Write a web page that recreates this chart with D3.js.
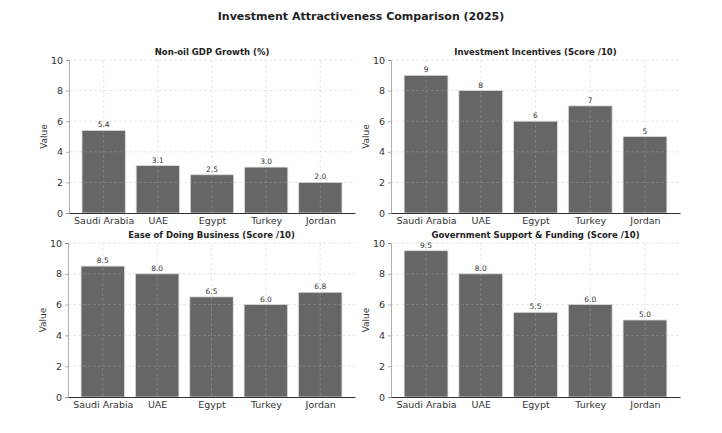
<!DOCTYPE html>
<head>
  <meta charset="UTF-8">
  <title>investment</title>
  <style>
  body, html, svg{
    padding: 0;
    margin: 0;
  }
  body{
    background: #fff;
  }
  text{
    font-family: "DejaVu Sans", sans-serif;
  }
  </style>
</head>
<body>
  <script src="https://cdn.jsdelivr.net/npm/d3@7"></script>
  <script type="text/javascript">
  var width = 722;
  var height = 433;

  // data
  var countries = ['Saudi Arabia', 'UAE', 'Egypt', 'Turkey', 'Jordan'];
  var gdpGrowth = [5.4, 3.1, 2.5, 3.0, 2.0];
  var incentives = [9, 8, 6, 7, 5];
  var easeBusiness = [8.5, 8.0, 6.5, 6.0, 6.8];
  var govSupport = [9.5, 8.0, 5.5, 6.0, 5.0];
  var yTicks = [0, 2, 4, 6, 8, 10];

  var panels = [
    {title: 'Non-oil GDP Growth (%)', values: gdpGrowth, fmt: '.1f', box: [69, 60, 355, 213]},
    {title: 'Investment Incentives (Score /10)', values: incentives, fmt: 'd', box: [391, 60, 680, 213]},
    {title: 'Ease of Doing Business (Score /10)', values: easeBusiness, fmt: '.1f', box: [68, 243, 355, 397]},
    {title: 'Government Support & Funding (Score /10)', values: govSupport, fmt: '.1f', box: [391, 243, 680, 397]}
  ];

  var svg = d3.select('body')
    .append('svg')
    .attr('width', width)
    .attr('height', height);

  svg.append('text')
    .attr('x', 361)
    .attr('y', 20)
    .attr('text-anchor', 'middle')
    .attr('font-size', 11)
    .attr('font-weight', 'bold')
    .attr('fill', '#222')
    .text('Investment Attractiveness Comparison (2025)');

  panels.forEach(function(p){
    var x0 = p.box[0], y0 = p.box[1], x1 = p.box[2], y1 = p.box[3];
    var g = svg.append('g');

    // matplotlib-like: bars width 0.8, 5% margins
    var x = d3.scaleLinear().domain([-0.64, countries.length - 1 + 0.64]).range([x0, x1]);
    var y = d3.scaleLinear().domain([0, 10]).range([y1, y0]);
    var bw = x(0.8) - x(0);

    g.selectAll('rect')
      .data(p.values)
      .enter()
      .append('rect')
      .attr('x', function(d, i){ return x(i) - bw / 2; })
      .attr('y', function(d){ return y(d); })
      .attr('width', bw)
      .attr('height', function(d){ return y(0) - y(d); })
      .attr('fill', '#666')
      .attr('stroke', '#ddd')
      .attr('stroke-width', 0.8);

    // grid
    var grid = g.append('g')
      .attr('stroke', '#bbb')
      .attr('stroke-opacity', 0.55)
      .attr('stroke-width', 0.6)
      .attr('stroke-dasharray', '3,2');
    grid.selectAll('.h')
      .data(yTicks.slice(1))
      .enter()
      .append('line')
      .attr('x1', x0).attr('x2', x1)
      .attr('y1', function(d){ return y(d); })
      .attr('y2', function(d){ return y(d); });
    grid.selectAll('.v')
      .data(countries)
      .enter()
      .append('line')
      .attr('x1', function(d, i){ return x(i); })
      .attr('x2', function(d, i){ return x(i); })
      .attr('y1', y0).attr('y2', y1);

    // value labels
    g.selectAll('.lbl')
      .data(p.values)
      .enter()
      .append('text')
      .attr('x', function(d, i){ return x(i); })
      .attr('y', function(d){ return y(d) - 3; })
      .attr('text-anchor', 'middle')
      .attr('font-size', 7.5)
      .attr('fill', '#333')
      .text(function(d){ return d3.format(p.fmt)(d); });

    // axes
    var yAxis = d3.axisLeft(y).tickValues(yTicks).tickSize(3).tickPadding(3);
    var ya = g.append('g')
      .attr('transform', 'translate(' + x0 + ',0)')
      .call(yAxis);
    ya.select('.domain').attr('stroke', '#999').attr('stroke-width', 0.8);
    ya.selectAll('.tick line').attr('stroke', '#777').attr('stroke-width', 0.6);
    ya.selectAll('text').attr('font-size', 9.5).attr('fill', '#333')
      .attr('font-family', '"DejaVu Sans", sans-serif');

    var xAxis = d3.axisBottom(x).tickValues(d3.range(countries.length))
      .tickFormat(function(i){ return countries[i]; })
      .tickSize(0).tickPadding(4);
    var xa = g.append('g')
      .attr('transform', 'translate(0,' + y1 + ')')
      .call(xAxis);
    xa.select('.domain').attr('stroke', '#333').attr('stroke-width', 1);
    xa.selectAll('text').attr('font-size', 9.5).attr('fill', '#333')
      .attr('font-family', '"DejaVu Sans", sans-serif');

    g.append('text')
      .attr('transform', 'translate(' + (x0 - 22) + ',' + ((y0 + y1) / 2) + ') rotate(-90)')
      .attr('text-anchor', 'middle')
      .attr('font-size', 9)
      .attr('fill', '#333')
      .text('Value');

    g.append('text')
      .attr('x', (x0 + x1) / 2)
      .attr('y', y0 - 5)
      .attr('text-anchor', 'middle')
      .attr('font-size', 8.5)
      .attr('font-weight', 'bold')
      .attr('fill', '#222')
      .text(p.title);
  });
  </script>
</body>
</html>
